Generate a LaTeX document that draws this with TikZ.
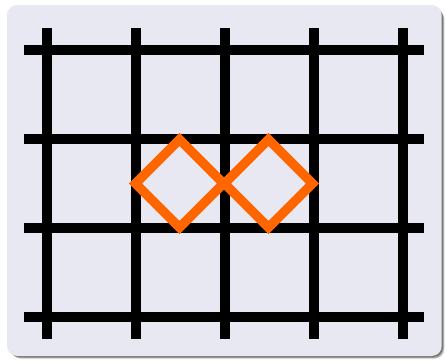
\documentclass[tikz,border=0pt]{standalone}
\begin{document}
\begin{tikzpicture}[x=1pt,y=-1pt,
  gridline/.style={line width=10pt,black,line cap=butt},
  diam/.style={line width=9.5pt,draw=orangeA,line join=miter}]
\definecolor{bgA}{RGB}{232,232,243}
\definecolor{orangeA}{RGB}{255,102,0}
\useasboundingbox (0,0) rectangle (446,362);
% shadow
\foreach \o/\op in {5/0.10,4/0.15,3/0.2,2/0.25}{
  \fill[black,opacity=\op,rounded corners=10pt] (7+\o,5+\o) rectangle (441.7+\o*0.6,356+\o*0.6);
}
\fill[bgA,rounded corners=10pt] (7,5) rectangle (441.7,356);
% grid
\foreach \x [count=\i] in {46.5,135.5,224.5,313.5,402.5}{
  \coordinate (vt\i) at (\x,28.3);
  \coordinate (vb\i) at (\x,339.3);
  \draw[gridline] (vt\i) -- (vb\i);
}
\foreach \y [count=\j] in {50,139,228,317}{
  \coordinate (hl\j) at (24.3,\y);
  \coordinate (hr\j) at (424.3,\y);
  \draw[gridline] (hl\j) -- (hr\j);
}
% diamonds
\coordinate (d1) at (179.5,183.5);
\coordinate (d2) at (268.5,183.5);
\draw[diam] (d1) ++(-44,0) -- ++(44,-44) -- ++(44,44) -- ++(-44,44) -- cycle;
\draw[diam] (d2) ++(-44,0) -- ++(44,-44) -- ++(44,44) -- ++(-44,44) -- cycle;
\end{tikzpicture}
\end{document}
